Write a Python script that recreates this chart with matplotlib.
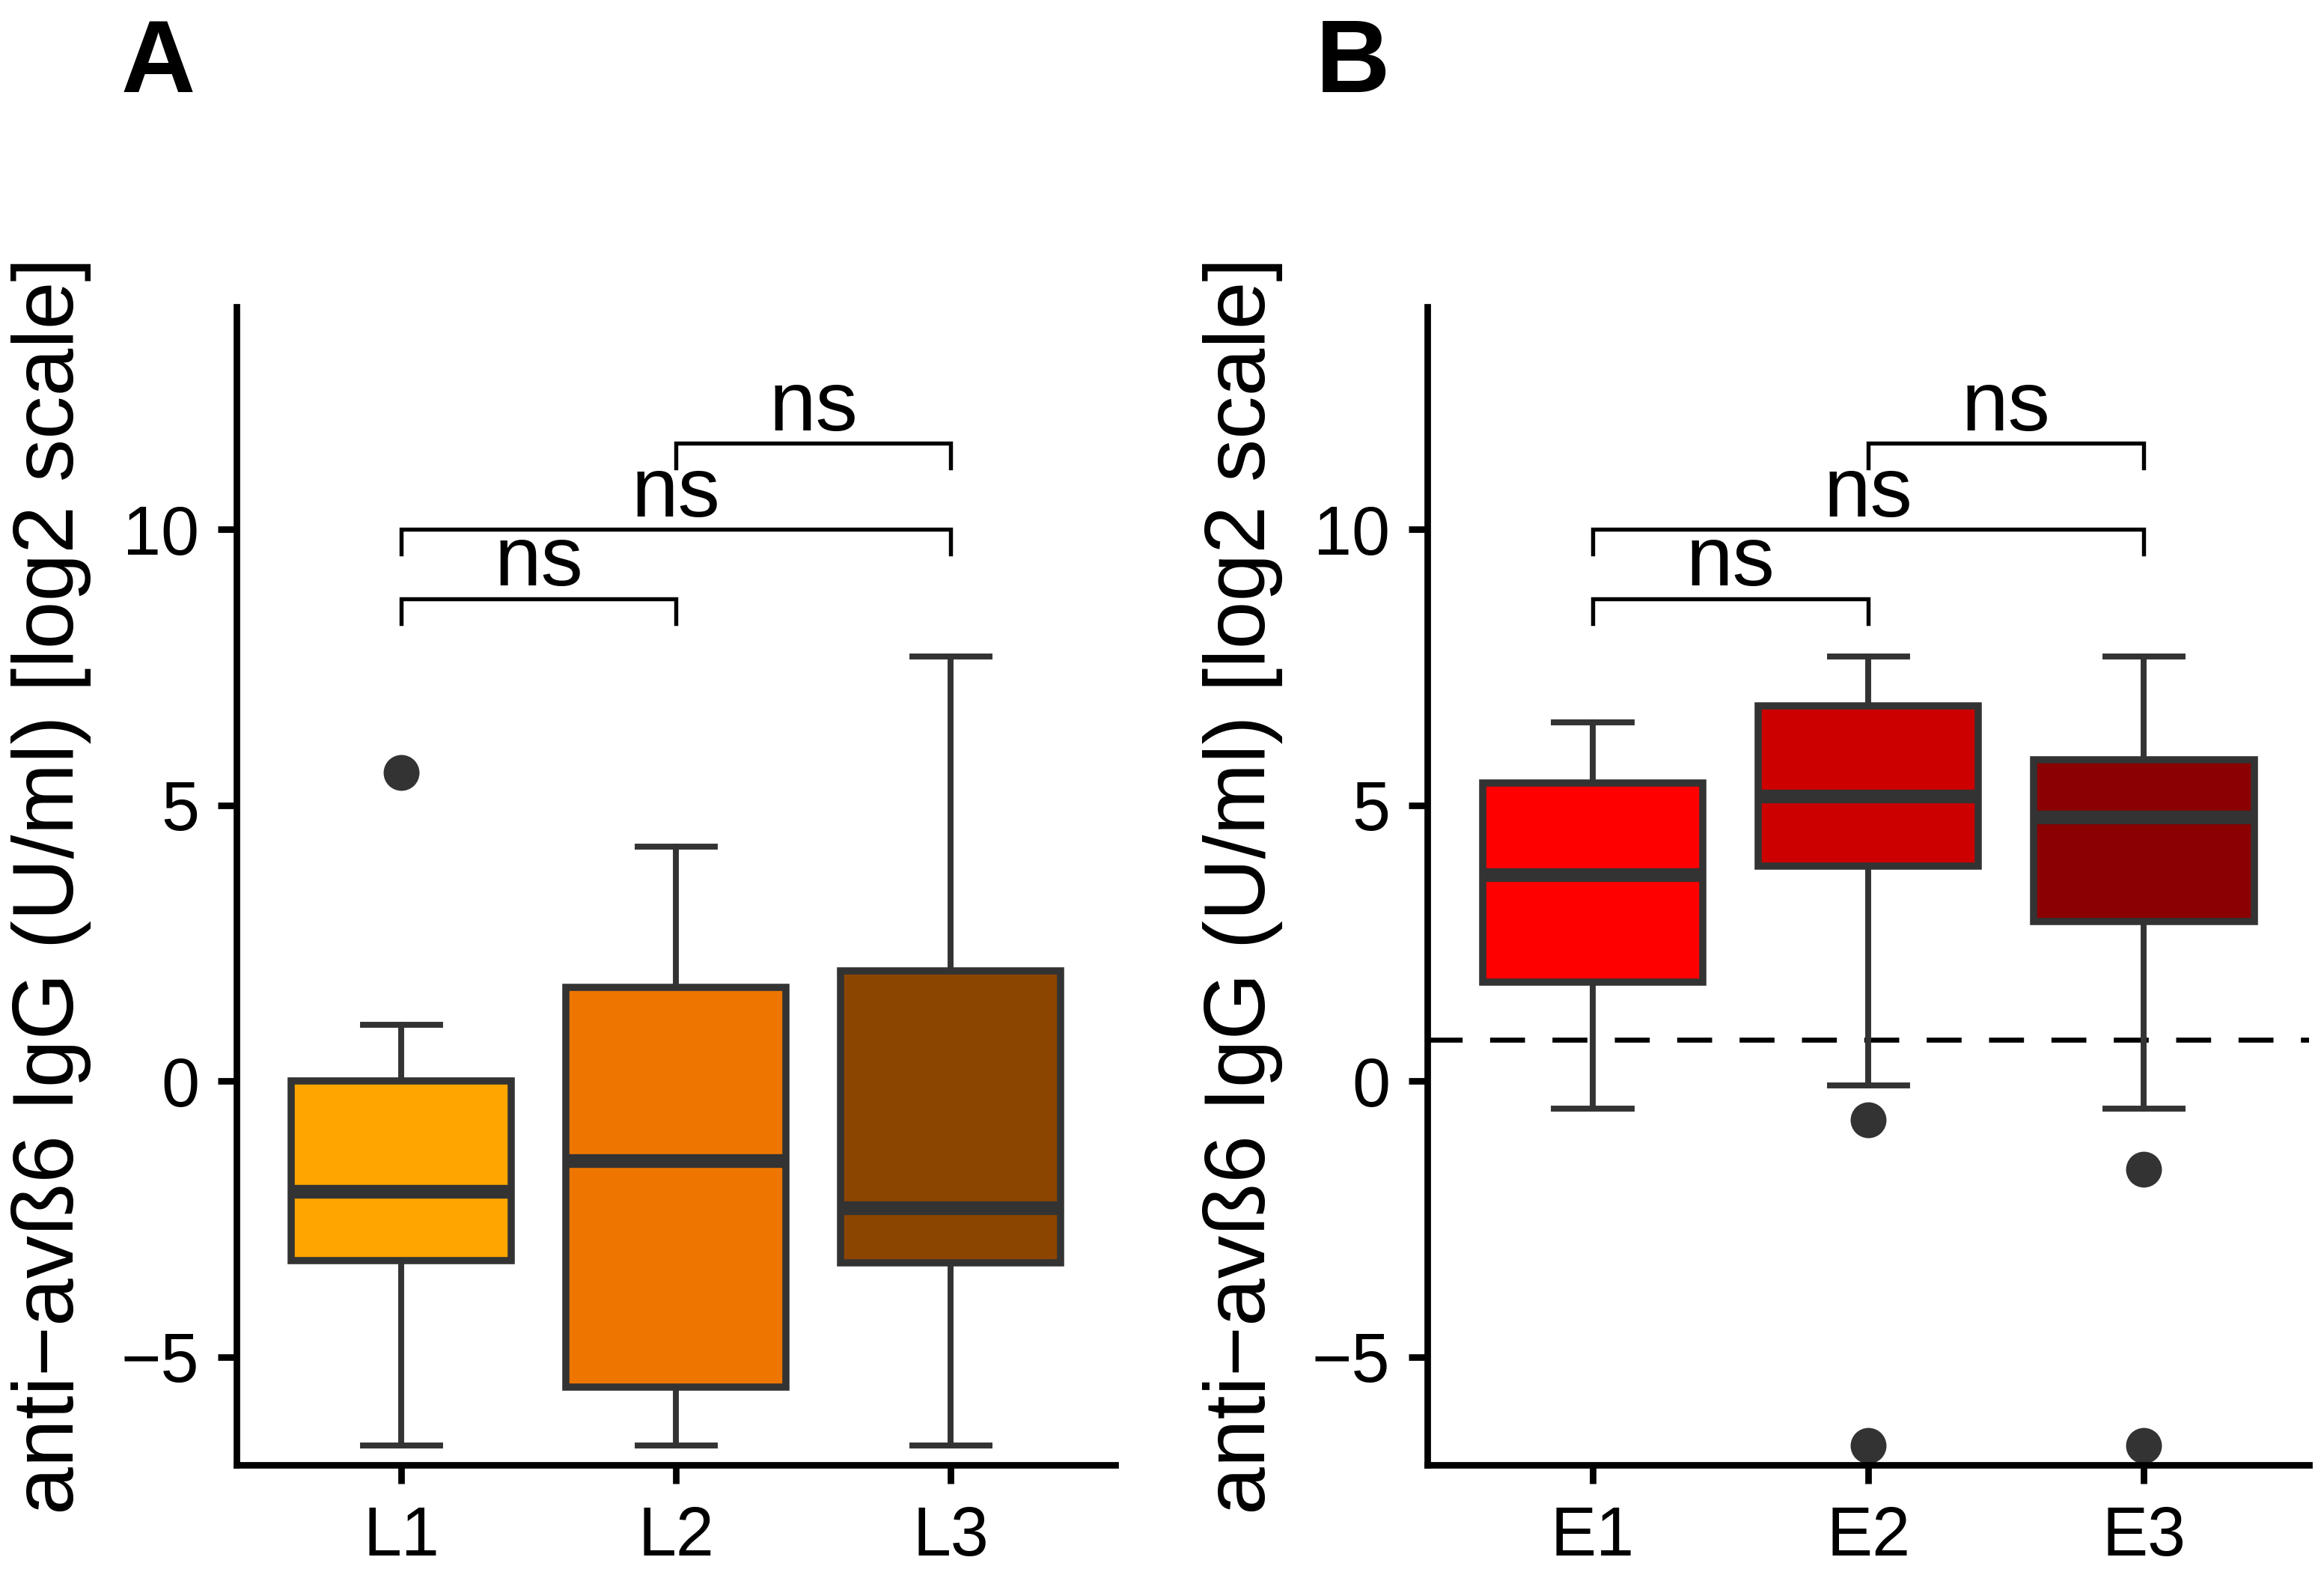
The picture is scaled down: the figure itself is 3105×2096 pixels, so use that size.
import matplotlib
matplotlib.use("Agg")
import matplotlib.pyplot as plt

plt.rcParams['font.family'] = ['Liberation Sans', 'DejaVu Sans']

# ---- data (log2 scale) ----
cats_a = ["L1", "L2", "L3"]
colors_a = ["#FFA500", "#EE7600", "#8B4500"]
whislo_a = [-6.6, -6.6, -6.6]
q1_a = [-3.25, -5.55, -3.3]
med_a = [-2.0, -1.45, -2.3]
q3_a = [0.0, 1.7, 2.0]
whishi_a = [1.02, 4.25, 7.69]
fliers_a = [[5.6], [], []]

cats_b = ["E1", "E2", "E3"]
colors_b = ["#FF0000", "#CD0000", "#8B0000"]
whislo_b = [-0.5, -0.08, -0.5]
q1_b = [1.8, 3.9, 2.9]
med_b = [3.74, 5.16, 4.78]
q3_b = [5.4, 6.8, 5.83]
whishi_b = [6.5, 7.69, 7.69]
fliers_b = [[], [-0.7, -6.6], [-1.6, -6.6]]

cutoff_b = 0.75

# significance brackets: (i, j, y)
brackets = [(1, 2, 8.74), (1, 3, 10.0), (2, 3, 11.56)]
bracket_labels = ["ns", "ns", "ns"]

ylabel = "anti\u2212av\u00df6 IgG (U/ml) [log2 scale]"
yticks = [-5, 0, 5, 10]
ylim = (-6.96, 14.03)

EDGE = "#333333"

fig = plt.figure(figsize=(3105 / 300, 2096 / 300), dpi=300)
ax_a = fig.add_axes([0.1018, 0.0662, 0.3782, 0.7381])
ax_b = fig.add_axes([0.6142, 0.0662, 0.3794, 0.7381])


def draw(ax, cats, colors, wlo, q1, med, q3, whi, fl):
    stats = []
    for k in range(len(cats)):
        stats.append(dict(whislo=wlo[k], q1=q1[k], med=med[k], q3=q3[k],
                          whishi=whi[k], fliers=fl[k], label=cats[k]))
    bp = ax.bxp(stats, positions=range(1, len(cats) + 1), widths=0.8,
                patch_artist=True, showfliers=True,
                boxprops=dict(edgecolor=EDGE, linewidth=2.3),
                medianprops=dict(color=EDGE, linewidth=4.4, solid_capstyle='butt'),
                whiskerprops=dict(color=EDGE, linewidth=1.9),
                capprops=dict(color=EDGE, linewidth=1.9),
                capwidths=0.28,
                flierprops=dict(marker='o', markerfacecolor=EDGE,
                                markeredgecolor=EDGE, markersize=10.5))
    for patch, c in zip(bp['boxes'], colors):
        patch.set_facecolor(c)
        patch.set_zorder(2)
    for spn in ['top', 'right']:
        ax.spines[spn].set_visible(False)
    for spn in ['left', 'bottom']:
        ax.spines[spn].set_linewidth(2.1)
    ax.set_xlim(0.4, len(cats) + 0.6)
    ax.set_ylim(*ylim)
    ax.set_yticks(yticks)
    ax.tick_params(axis='both', length=6, width=2.1, labelsize=22)
    ax.tick_params(axis='x', pad=7)
    ax.tick_params(axis='y', pad=6)
    ax.set_xticks(range(1, len(cats) + 1))
    ax.set_xticklabels(cats)
    ax.set_ylabel(ylabel, fontsize=27.5)
    tip = 0.45
    for (i, j, y), lab in zip(brackets, bracket_labels):
        ax.plot([i, i, j, j], [y - tip, y, y, y - tip], color='black',
                linewidth=1.3, solid_joinstyle='miter', zorder=3)
        ax.text((i + j) / 2, y + 0.24, lab, ha='center', va='baseline',
                fontsize=27)


draw(ax_a, cats_a, colors_a, whislo_a, q1_a, med_a, q3_a, whishi_a, fliers_a)
draw(ax_b, cats_b, colors_b, whislo_b, q1_b, med_b, q3_b, whishi_b, fliers_b)
ax_b.axhline(cutoff_b, color='black', linewidth=1.6, linestyle=(0, (7, 5.5)),
             zorder=1)

ax_a.yaxis.set_label_coords(-0.165, 0.5)
ax_b.yaxis.set_label_coords(-0.164, 0.5)

fig.text(0.052, 0.989, "A", fontsize=33, fontweight='bold', va='top', ha='left')
fig.text(0.566, 0.989, "B", fontsize=33, fontweight='bold', va='top', ha='left')

fig.savefig("out.png", dpi=300)
